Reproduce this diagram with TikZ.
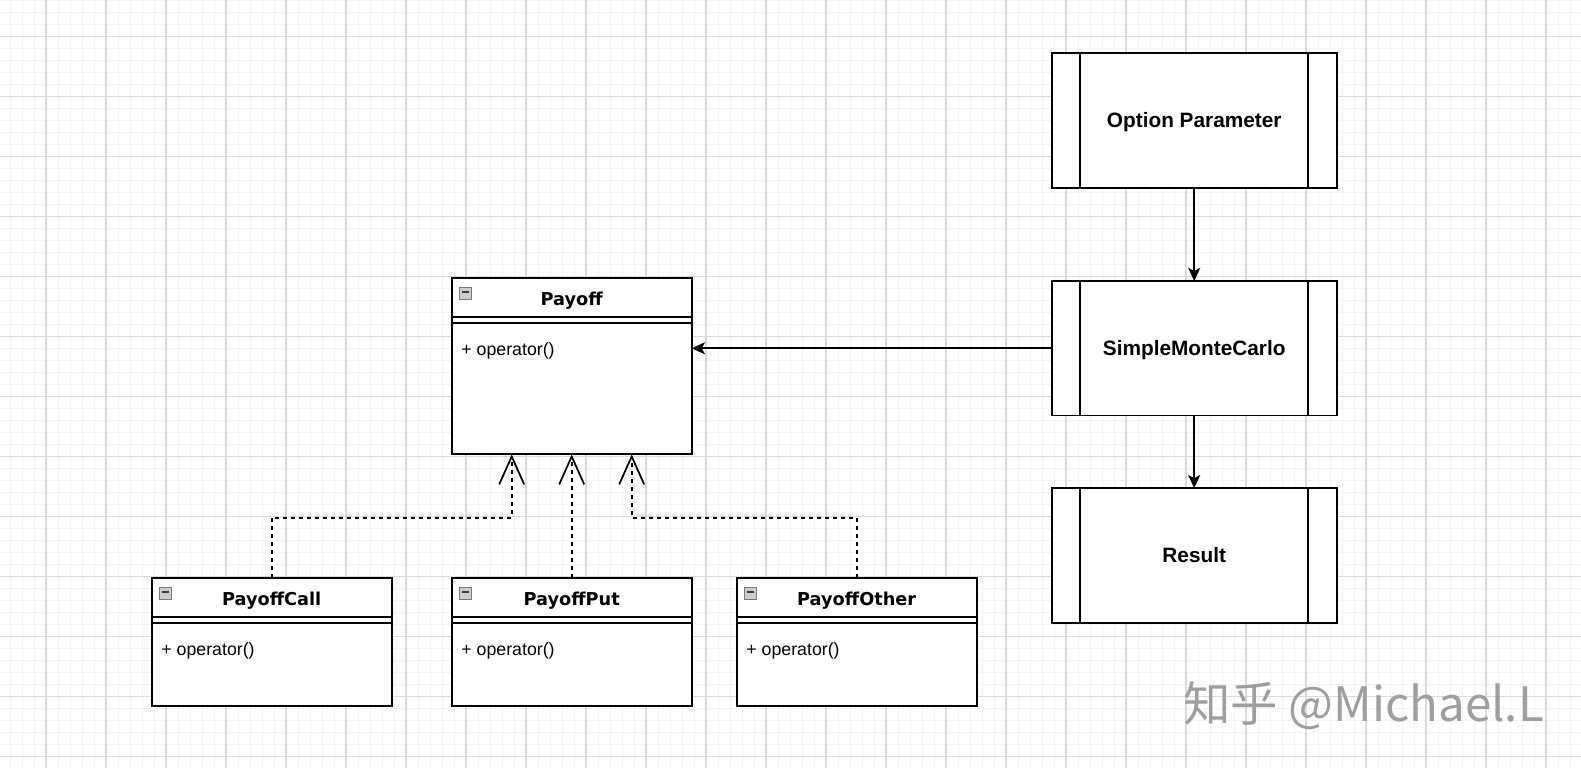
\documentclass[tikz,border=0pt]{standalone}
\usepackage{fontspec}
\setmainfont{Liberation Sans}
\newfontfamily\umlfont{DejaVu Sans}
\newfontfamily\cjkfont{Noto Sans CJK SC}
\usetikzlibrary{arrows.meta}
\definecolor{gridmajor}{RGB}{218,218,218}
\definecolor{gridminor}{RGB}{244,244,244}
\definecolor{iconfill}{RGB}{205,205,205}
\definecolor{iconedge}{RGB}{120,120,120}
\definecolor{iconbar}{RGB}{60,60,60}
\definecolor{marktext}{RGB}{158,158,158}

\begin{document}
\begin{tikzpicture}[x=0.75pt,y=0.75pt,yscale=-1,xscale=1,
	procbox/.style={draw, line width=1.4pt, fill=white, outer sep=0pt, inner sep=0pt, minimum width=213.75pt, minimum height=100.8pt, text height=11.2pt, text depth=0pt, font=\fontsize{15.6pt}{18pt}\selectfont\bfseries},
	umlclass/.style={draw, line width=1.4pt, fill=white, outer sep=0pt, inner sep=0pt, minimum width=180pt},
	clstitle/.style={anchor=base, inner sep=0.75pt, font=\umlfont\fontsize{13.3pt}{16pt}\selectfont\bfseries},
	clsop/.style={anchor=base west, inner sep=0.75pt, font=\fontsize{13.3pt}{16pt}\selectfont},
	clsicon/.style={draw=iconedge, fill=iconfill, line width=0.5pt, inner sep=0pt, minimum size=9pt, path picture={\draw[line width=1.4pt, iconbar] ([xshift=1.7pt,yshift=0.6pt]path picture bounding box.west) -- ([xshift=-1.7pt,yshift=0.6pt]path picture bounding box.east);}},
	sepline/.style={line width=1.4pt},
	flow/.style={line width=1.3pt, -{Stealth[length=10pt,width=9pt,inset=2.5pt]}},
	realize/.style={line width=1.3pt, dash pattern=on 3pt off 3pt, -{Straight Barb[length=21pt,width=18.75pt]}}
]
	%page and grid
	\useasboundingbox (0,0) rectangle (1581,768);
	\fill [white] (0,0) rectangle (1581,768);
	\foreach \x in {10,22,...,1582} \draw [gridminor, line width=0.6pt] (\x,0) -- (\x,768);
	\foreach \y in {0.7,12.7,...,768} \draw [gridminor, line width=0.6pt] (0,\y) -- (1581,\y);
	\foreach \x in {46,106,...,1546} \draw [gridmajor, line width=1.1pt] (\x,0) -- (\x,768);
	\foreach \y in {36.7,96.7,...,757} \draw [gridmajor, line width=1.1pt] (0,\y) -- (1581,\y);

	% Process boxes
	\node [procbox] (optparam) at (1194.2,120.5) {Option Parameter};
	\draw [sepline] (optparam.north west) ++(28.3,0) -- ++(0,134.4);
	\draw [sepline] (optparam.north east) ++(-28.3,0) -- ++(0,134.4);
	\node [procbox] (smc) at (1194.2,348.3) {SimpleMonteCarlo};
	\draw [sepline] (smc.north west) ++(28.3,0) -- ++(0,134.4);
	\draw [sepline] (smc.north east) ++(-28.3,0) -- ++(0,134.4);
	\node [procbox] (result) at (1194.2,555.5) {Result};
	\draw [sepline] (result.north west) ++(28.3,0) -- ++(0,134.4);
	\draw [sepline] (result.north east) ++(-28.3,0) -- ++(0,134.4);

	% Class Payoff
	\node [umlclass, minimum height=132pt] (payoff) at (571.7,366.3) {};
	\draw [sepline] (payoff.north west) ++(0,38.4) -- ++(240,0);
	\draw [sepline] (payoff.north west) ++(0,44.4) -- ++(240,0);
	\path (payoff.north west) ++(13.8,14.6) node [clsicon] (payofficon) {};
	\path (payoff.north) ++(0,26.9) node [clstitle] (payofftitle) {Payoff};
	\path (payoff.north west) ++(8.5,77) node [clsop] (payoffop) {+ operator()};
	% Class PayoffCall
	\node [umlclass, minimum height=95.5pt] (payoffcall) at (271.7,642) {};
	\draw [sepline] (payoffcall.north west) ++(0,39) -- ++(240,0);
	\draw [sepline] (payoffcall.north west) ++(0,44.8) -- ++(240,0);
	\path (payoffcall.north west) ++(13.8,14.6) node [clsicon] (callicon) {};
	\path (payoffcall.north) ++(0,27.2) node [clstitle] (calltitle) {PayoffCall};
	\path (payoffcall.north west) ++(8.5,77) node [clsop] (callop) {+ operator()};
	% Class PayoffPut
	\node [umlclass, minimum height=95.5pt] (payoffput) at (571.7,642) {};
	\draw [sepline] (payoffput.north west) ++(0,39) -- ++(240,0);
	\draw [sepline] (payoffput.north west) ++(0,44.8) -- ++(240,0);
	\path (payoffput.north west) ++(13.8,14.6) node [clsicon] (puticon) {};
	\path (payoffput.north) ++(0,27.2) node [clstitle] (puttitle) {PayoffPut};
	\path (payoffput.north west) ++(8.5,77) node [clsop] (putop) {+ operator()};
	% Class PayoffOther
	\node [umlclass, minimum height=95.5pt] (payoffother) at (856.7,642) {};
	\draw [sepline] (payoffother.north west) ++(0,39) -- ++(240,0);
	\draw [sepline] (payoffother.north west) ++(0,44.8) -- ++(240,0);
	\path (payoffother.north west) ++(13.8,14.6) node [clsicon] (othericon) {};
	\path (payoffother.north) ++(0,27.2) node [clstitle] (othertitle) {PayoffOther};
	\path (payoffother.north west) ++(8.5,77) node [clsop] (otherop) {+ operator()};

	% Connection
	\draw [flow] (optparam) -- (smc);
	\draw [flow] (smc) -- (result);
	\draw [flow] (smc.west) -- (smc.west -| payoff.east);
	% Realization
	\draw [realize] (payoffcall.north) -- ++(0,-60.6) -| ([xshift=-45pt]payoff.south);
	\draw [realize] (payoffput) -- (payoff);
	\draw [realize] (payoffother.north) -- ++(0,-60.6) -| ([xshift=45pt]payoff.south);

	% Watermark
	\node [anchor=base west, inner sep=0pt, text=marktext, font=\cjkfont\fontsize{35.6pt}{38pt}\selectfont] (mark) at (1183,721.7) {知乎 @Michael.L};
\end{tikzpicture}
\end{document}
